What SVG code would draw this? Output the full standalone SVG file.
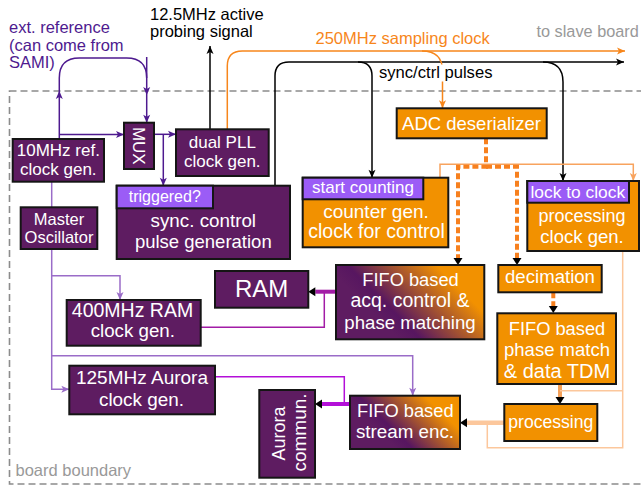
<svg xmlns="http://www.w3.org/2000/svg" width="641" height="485" viewBox="0 0 641 485">
<defs>
<style>
.box{stroke:#151515;stroke-width:2}
.pu{fill:#5e1c61}
.or{fill:#f29100}
.tab{fill:#9b5cf6;stroke:#151515;stroke-width:2}
.t{font-family:"Liberation Sans",Arial,sans-serif;fill:#fff;text-anchor:middle}
.l{font-family:"Liberation Sans",Arial,sans-serif}
.ln{fill:none;stroke-width:1.5}
</style>
<linearGradient id="grad" x1="0.25" y1="0.65" x2="0.85" y2="0.35">
<stop offset="0" stop-color="#5e1c61"/>
<stop offset="0.2" stop-color="#571660"/>
<stop offset="1" stop-color="#f29100"/>
</linearGradient>
<marker id="aBlk" markerUnits="userSpaceOnUse" markerWidth="10" markerHeight="8" refX="8" refY="4" orient="auto" overflow="visible"><path d="M0,0.5 L8,4 L0,7.5 L2,4 z" fill="#000"/></marker>
<marker id="aPur" markerUnits="userSpaceOnUse" markerWidth="10" markerHeight="8" refX="8" refY="4" orient="auto" overflow="visible"><path d="M0,0.5 L8,4 L0,7.5 L2,4 z" fill="#4e1a8f"/></marker>
<marker id="aLpu" markerUnits="userSpaceOnUse" markerWidth="10" markerHeight="8" refX="8" refY="4" orient="auto" overflow="visible"><path d="M0,0.5 L8,4 L0,7.5 L2,4 z" fill="#9a6cc8"/></marker>
<marker id="aOr" markerUnits="userSpaceOnUse" markerWidth="10" markerHeight="8" refX="8" refY="4" orient="auto" overflow="visible"><path d="M0,0.5 L8,4 L0,7.5 L2,4 z" fill="#f7861b"/></marker>
<marker id="aLor" markerUnits="userSpaceOnUse" markerWidth="10" markerHeight="8" refX="8" refY="4" orient="auto" overflow="visible"><path d="M0,0.5 L8,4 L0,7.5 L2,4 z" fill="#f8a35e"/></marker>
<marker id="aTri" markerUnits="userSpaceOnUse" markerWidth="8" markerHeight="10" refX="0" refY="4.5" orient="auto" overflow="visible"><path d="M0,0 L7,4.5 L0,9 z" fill="#000"/></marker>
</defs>
<rect width="641" height="485" fill="#fff"/>

<g id="board-boundary">
<rect x="9.5" y="91" width="680" height="393" fill="none" stroke="#8c8c8c" stroke-width="1.6" stroke-dasharray="7,4"/>
<text class="l" x="15.5" y="476" font-size="16.5" fill="#999">board boundary</text>
</g>

<g id="connectors">
<g stroke="#4e1a8f" class="ln" fill="none">
<path class="ln" d="M59.3,139 V91" marker-end="url(#aPur)"/>
<path class="ln" d="M59.3,91 V78 Q59.3,58 79.3,58 H126.7 Q146.7,58 146.7,78"/>
<path class="ln" d="M146.7,57 V95" marker-end="url(#aPur)"/>
<path class="ln" d="M146.7,95 V122.7" marker-end="url(#aPur)"/>
<path class="ln" d="M59.3,134.5 H124" marker-end="url(#aPur)"/>
<path class="ln" d="M154,134.3 H176" marker-end="url(#aPur)"/>
<path class="ln" d="M163.3,134.3 V185.7" marker-end="url(#aPur)"/>
</g>
<g stroke="#000" fill="none">
<path class="ln" d="M210,129.3 V46" marker-end="url(#aBlk)"/>
<path class="ln" d="M275,185.7 V76 Q275,62 289,62 H358 Q372,62 372,76 V177.7" marker-end="url(#aBlk)"/>
<path class="ln" d="M358,62 H624" marker-end="url(#aBlk)"/>
<path class="ln" d="M543,62 Q563,62 563,82 V181" marker-end="url(#aBlk)"/>
</g>
<g stroke="#f7861b" fill="none">
<path class="ln" d="M227.3,129.3 V66 Q227.3,51 242.3,51 H625" marker-end="url(#aOr)"/>
<path class="ln" d="M422,51 Q442.5,51 442.5,71 V108.3" marker-end="url(#aOr)"/>
</g>
<path class="ln" stroke="#f8a35e" d="M440,177.7 V164.3 H633.3 V181" marker-end="url(#aLor)"/>
<g stroke="#f7801e" stroke-width="4" stroke-dasharray="6,3" fill="none">
<path d="M486,138.3 V166.7 H458 V258" marker-end="url(#aTri)"/>
<path d="M486,166.7 H517 V258" marker-end="url(#aTri)"/>
<path d="M553.3,292.3 V306" marker-end="url(#aTri)"/>
</g>
<path d="M560,384 V397" stroke="#f5a15a" stroke-width="4" fill="none" marker-end="url(#aTri)"/>
<g stroke="#fcc79c" fill="none">
<path class="ln" d="M622.7,251 V447.7 H487.3 V422.7"/>
<path class="ln" d="M622.7,390.7 H560"/>
<path d="M504.3,422.7 H467" stroke-width="4.5" marker-end="url(#aTri)"/>
</g>
<g stroke="#a21ca6" fill="none">
<path d="M336,291.7 H315.3" stroke-width="4" marker-end="url(#aTri)"/>
<path class="ln" d="M200.7,327.3 H324.3 V291.7"/>
</g>
<g stroke="#b30fd8" fill="none">
<path d="M350,404 H322" stroke-width="4" marker-end="url(#aTri)"/>
<path class="ln" d="M215,376.7 H344.3 V404"/>
</g>
<g stroke="#9a6cc8" fill="none">
<path class="ln" d="M51.7,181.7 V207.3"/>
<path class="ln" d="M51.7,249 V389.3 H69.3" marker-end="url(#aLpu)"/>
<path class="ln" d="M51.7,275.7 H120 V300" marker-end="url(#aLpu)"/>
<path class="ln" d="M51.7,355.7 H412.7 V395.7" marker-end="url(#aLpu)"/>
</g>
</g>

<g id="labels">
<g class="l" font-size="16.5" fill="#4e1a8f">
<text x="9" y="33">ext. reference</text>
<text x="9" y="50.5">(can come from</text>
<text x="9" y="68">SAMI)</text>
</g>
<text class="l" x="150" y="20" font-size="16.5" fill="#000">12.5MHz active</text>
<text class="l" x="150" y="37" font-size="16.5" fill="#000">probing signal</text>
<text class="l" x="315.5" y="43.5" font-size="16.5" fill="#f7861b">250MHz sampling clock</text>
<text class="l" x="536.5" y="37" font-size="16.3" fill="#999">to slave board</text>
<rect x="377" y="64.5" width="118" height="17" fill="#fff"/>
<text class="l" x="379" y="77.5" font-size="16.6" fill="#000">sync/ctrl pulses</text>
</g>

<g id="n10mhz">
<rect class="box pu" x="12.7" y="139" width="91.3" height="42.7"/>
<text class="t" x="58.3" y="156" font-size="17">10MHz ref.</text>
<text class="t" x="58.3" y="174.5" font-size="17">clock gen.</text>
</g>
<g id="nmux">
<rect class="box pu" x="124" y="122.7" width="30" height="46.3"/>
<text class="t" font-size="17" transform="translate(139,145.8) rotate(90)" y="6">MUX</text>
</g>
<g id="ndualpll">
<rect class="box pu" x="176" y="129.3" width="92.7" height="46.7"/>
<text class="t" x="222.3" y="148.3" font-size="17">dual PLL</text>
<text class="t" x="222.3" y="167.3" font-size="17">clock gen.</text>
</g>
<g id="nsync">
<rect class="box pu" x="116.7" y="185.7" width="173.3" height="73.3"/>
<rect class="tab" x="116.7" y="185.7" width="96.3" height="22.6"/>
<text class="t" x="164.8" y="201.7" font-size="16">triggered?</text>
<text class="t" x="203.3" y="226.7" font-size="18.8">sync. control</text>
<text class="t" x="203.3" y="248.3" font-size="18.5">pulse generation</text>
</g>
<g id="nmaster">
<rect class="box pu" x="20.7" y="207.3" width="76.6" height="41.7"/>
<text class="t" x="59" y="225" font-size="16.5">Master</text>
<text class="t" x="59" y="243.3" font-size="16.5">Oscillator</text>
</g>
<g id="ncounter">
<rect class="box or" x="302.7" y="177.7" width="145.6" height="69.6"/>
<rect class="tab" x="302.7" y="177.7" width="120.6" height="21.6"/>
<text class="t" x="363" y="193.3" font-size="17">start counting</text>
<text class="t" x="376" y="218.3" font-size="19">counter gen.</text>
<text class="t" x="376.5" y="238.3" font-size="19.5">clock for control</text>
</g>
<g id="nadc">
<rect class="box or" x="396.7" y="108.3" width="150" height="30"/>
<text class="t" x="471.5" y="130" font-size="18.5">ADC deserializer</text>
</g>
<g id="nproclk">
<rect class="box or" x="527.3" y="181" width="111.7" height="70"/>
<rect class="tab" x="527.3" y="181" width="101.7" height="21.7"/>
<text class="t" x="577.8" y="198.3" font-size="17.4">lock to clock</text>
<text class="t" x="582" y="221.7" font-size="18">processing</text>
<text class="t" x="582" y="242.7" font-size="18.5">clock gen.</text>
</g>
<g id="nram">
<rect class="box pu" x="215" y="271" width="93.3" height="36.7"/>
<text class="t" x="261.7" y="296.7" font-size="24">RAM</text>
</g>
<g id="n400">
<rect class="box pu" x="66.7" y="300" width="134" height="45.7"/>
<text class="t" x="132.5" y="316.7" font-size="19.5">400MHz RAM</text>
<text class="t" x="132.8" y="337.3" font-size="18.7">clock gen.</text>
</g>
<g id="n125">
<rect class="box pu" x="69.3" y="365.7" width="145.7" height="48.6"/>
<text class="t" x="142" y="384" font-size="19">125MHz Aurora</text>
<text class="t" x="141.5" y="406" font-size="18.9">clock gen.</text>
</g>
<g id="naurora">
<rect class="box pu" x="259.3" y="390" width="55.7" height="87.7"/>
<text class="t" font-size="18" transform="translate(287.2,433.5) rotate(-90)" y="-2">Aurora</text>
<text class="t" font-size="19" transform="translate(287.2,432.5) rotate(-90)" y="18.8">commun.</text>
</g>
<g id="nfifoacq">
<rect class="box" fill="url(#grad)" x="336" y="265" width="148.3" height="74.3"/>
<text class="t" x="410.5" y="286" font-size="18.3">FIFO based</text>
<text class="t" x="410" y="307.3" font-size="19.5">acq. control &amp;</text>
<text class="t" x="410" y="329" font-size="18.6">phase matching</text>
</g>
<g id="ndecim">
<rect class="box or" x="498.3" y="265" width="103.4" height="27.3"/>
<text class="t" x="550" y="283.3" font-size="18.6">decimation</text>
</g>
<g id="nfifotdm">
<rect class="box or" x="497.3" y="313.3" width="118.7" height="70.7"/>
<text class="t" x="557" y="335" font-size="18.3">FIFO based</text>
<text class="t" x="557" y="356" font-size="18.5">phase match</text>
<text class="t" x="557" y="377.7" font-size="20">&amp; data TDM</text>
</g>
<g id="nfifostream">
<rect class="box" fill="url(#grad)" x="350" y="395.7" width="110" height="53.3"/>
<text class="t" x="405.3" y="417.3" font-size="18.3">FIFO based</text>
<text class="t" x="405" y="438.3" font-size="18.8">stream enc.</text>
</g>
<g id="nprocessing">
<rect class="box or" x="504.3" y="404" width="93" height="37"/>
<text class="t" x="550.8" y="428.3" font-size="17.6">processing</text>
</g>
</svg>
